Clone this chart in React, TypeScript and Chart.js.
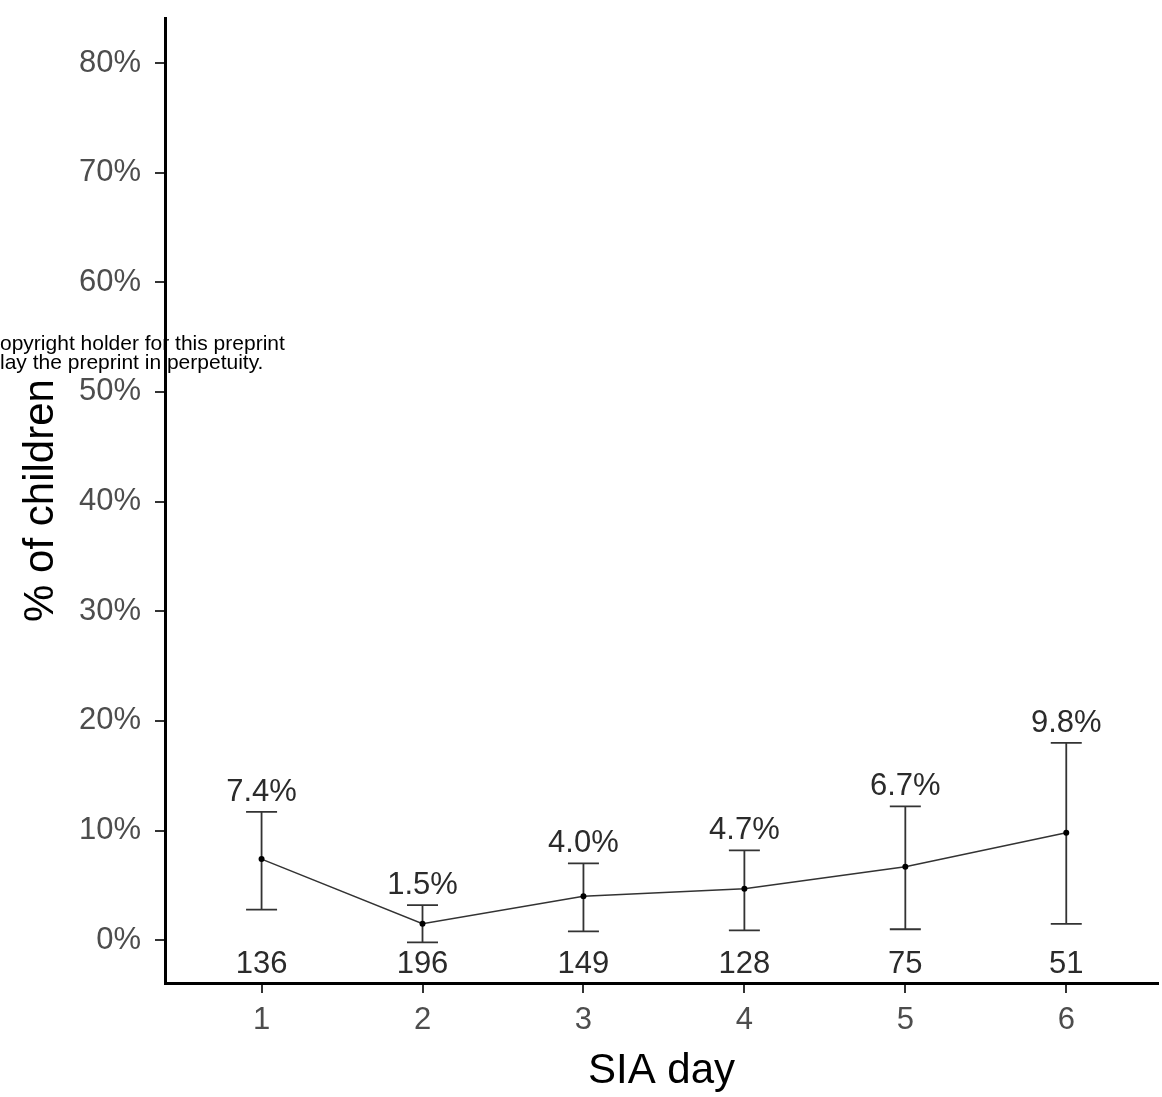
import React, { useEffect, useRef } from 'react';
import { Chart, registerables } from 'chart.js';

Chart.register(...registerables);

// ---- data ----
const days = [1, 2, 3, 4, 5, 6];
const pct = [7.4, 1.5, 4.0, 4.7, 6.7, 9.8];
const lowerCI = [2.8, -0.2, 0.8, 0.9, 1.0, 1.5];
const upperCI = [11.7, 3.2, 7.0, 8.2, 12.2, 18.0];
const nChildren = [136, 196, 149, 128, 75, 51];
const pctLabels = ['7.4%', '1.5%', '4.0%', '4.7%', '6.7%', '9.8%'];
const yTicks = [0, 10, 20, 30, 40, 50, 60, 70, 80];
const xTicks = [1, 2, 3, 4, 5, 6];
const overlayLines = ['opyright holder for this preprint', 'lay the preprint in perpetuity.'];

const FONT = "'Liberation Sans', Arial, Helvetica, sans-serif";
const N_LABEL_VALUE = -3;

const annotPlugin = {
  id: 'annot',
  beforeDraw(chart: any) {
    const ctx = chart.ctx;
    ctx.save();
    ctx.fillStyle = '#000';
    ctx.font = `21px ${FONT}`;
    ctx.textAlign = 'left';
    ctx.textBaseline = 'alphabetic';
    ctx.fillText(overlayLines[0], 0, 350);
    ctx.fillText(overlayLines[1], 0, 369);
    ctx.restore();
  },
  beforeDatasetsDraw(chart: any) {
    const ctx = chart.ctx;
    const xs = chart.scales.x;
    const ys = chart.scales.y;
    ctx.save();
    ctx.strokeStyle = '#333';
    ctx.lineWidth = 1.8;
    const hw = 15.5;
    days.forEach((d, i) => {
      const x = xs.getPixelForValue(d);
      const yl = ys.getPixelForValue(lowerCI[i]);
      const yu = ys.getPixelForValue(upperCI[i]);
      ctx.beginPath();
      ctx.moveTo(x, yl);
      ctx.lineTo(x, yu);
      ctx.moveTo(x - hw, yl);
      ctx.lineTo(x + hw, yl);
      ctx.moveTo(x - hw, yu);
      ctx.lineTo(x + hw, yu);
      ctx.stroke();
    });
    ctx.restore();
  },
  afterDatasetsDraw(chart: any) {
    const ctx = chart.ctx;
    const xs = chart.scales.x;
    const ys = chart.scales.y;
    ctx.save();
    ctx.fillStyle = '#2b2b2b';
    ctx.font = `31px ${FONT}`;
    ctx.textAlign = 'center';
    ctx.textBaseline = 'alphabetic';
    days.forEach((d, i) => {
      const x = xs.getPixelForValue(d);
      ctx.fillText(pctLabels[i], x, ys.getPixelForValue(upperCI[i]) - 11);
      ctx.fillText(String(nChildren[i]), x, ys.getPixelForValue(N_LABEL_VALUE));
    });
    ctx.restore();
  },
};

export default function App() {
  const ref = useRef<HTMLCanvasElement | null>(null);

  useEffect(() => {
    const canvas = ref.current;
    if (!canvas) return;
    const chart = new Chart(canvas, {
      type: 'line',
      data: {
        datasets: [
          {
            data: days.map((d, i) => ({ x: d, y: pct[i] })),
            borderColor: '#333',
            borderWidth: 1.5,
            pointRadius: 3,
            pointBackgroundColor: '#000',
            pointBorderWidth: 0,
            tension: 0,
            fill: false,
          },
        ],
      },
      options: {
        responsive: false,
        animation: false,
        devicePixelRatio: 1,
        layout: { padding: { top: 18, left: 0, right: 0, bottom: 0 } },
        plugins: {
          legend: { display: false },
          tooltip: { enabled: false },
        },
        scales: {
          x: {
            type: 'linear',
            min: 0.4,
            max: 6.57,
            afterBuildTicks: (scale: any) => {
              scale.ticks = xTicks.map((v) => ({ value: v }));
            },
            afterFit: (scale: any) => {
              scale.height = 114;
              scale.paddingLeft = 0;
              scale.paddingRight = 0;
              scale.paddingTop = 0;
              scale.paddingBottom = 0;
            },
            grid: {
              display: true,
              drawOnChartArea: false,
              drawTicks: true,
              tickLength: 10,
              tickColor: '#333',
              lineWidth: 2,
            },
            border: { display: true, color: '#000', width: 3 },
            ticks: {
              color: '#4d4d4d',
              font: { family: FONT, size: 31 },
              padding: 9,
              maxRotation: 0,
              callback: (v: any) => String(v),
            },
            title: {
              display: true,
              text: 'SIA day',
              color: '#000',
              font: { family: FONT, size: 42 },
              padding: { top: 0, bottom: 0 },
            },
          },
          y: {
            type: 'linear',
            min: -3.9,
            max: 84.1,
            afterBuildTicks: (scale: any) => {
              scale.ticks = yTicks.map((v) => ({ value: v }));
            },
            afterFit: (scale: any) => {
              scale.width = 165;
              scale.paddingLeft = 0;
              scale.paddingRight = 0;
              scale.paddingTop = 0;
              scale.paddingBottom = 0;
            },
            grid: {
              display: true,
              drawOnChartArea: false,
              drawTicks: true,
              tickLength: 10,
              tickColor: '#333',
              lineWidth: 2,
            },
            border: { display: true, color: '#000', width: 3 },
            ticks: {
              color: '#4d4d4d',
              font: { family: FONT, size: 31 },
              padding: 14,
              callback: (v: any) => `${v}%`,
            },
            title: {
              display: true,
              text: '% of children',
              color: '#000',
              font: { family: FONT, size: 42 },
              padding: { top: 16, bottom: 0 },
            },
          },
        },
      },
      plugins: [annotPlugin],
    } as any);
    return () => chart.destroy();
  }, []);

  return (
    <div style={{ position: 'absolute', left: 0, top: 0, width: 1162, height: 1097, background: '#fff' }}>
      <canvas ref={ref} width={1162} height={1097} style={{ display: 'block', width: 1162, height: 1097 }} />
    </div>
  );
}
